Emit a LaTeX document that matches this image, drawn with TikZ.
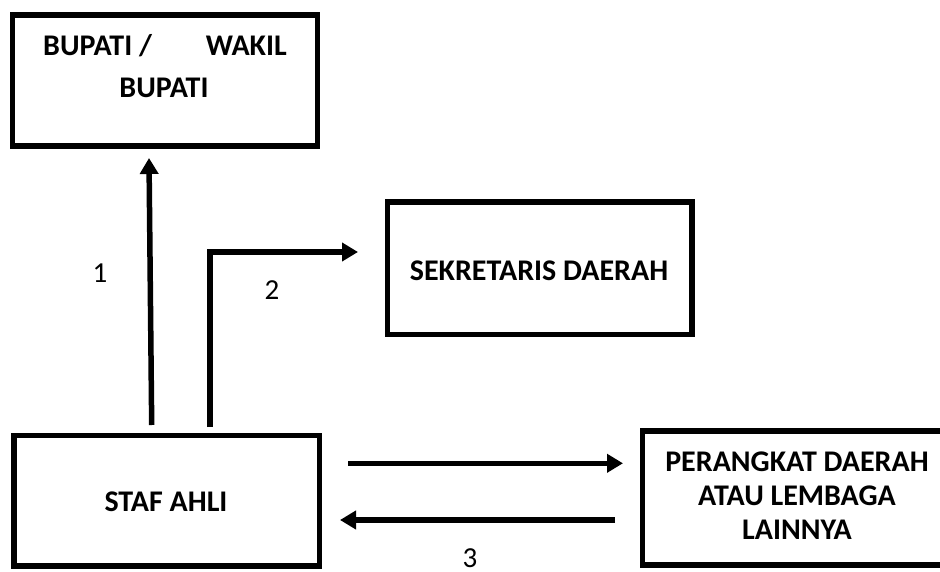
\documentclass[tikz,border=0pt]{standalone}
\usepackage{fontspec}
\setmainfont{Carlito}
\usetikzlibrary{arrows.meta}
\begin{document}
\begin{tikzpicture}[x=1pt,y=1pt,
  box/.style={draw=black, line width=5.5pt, outer sep=0pt, inner sep=0pt, anchor=north west, fill=none},
  lbl/.style={font=\bfseries\fontsize{30}{34}\selectfont, inner sep=0pt, text=black},
  num/.style={font=\fontsize{29}{34}\selectfont, inner sep=0pt, text=black},
  arr/.style={line width=5.5pt, -{Triangle[length=16pt,width=18pt]}}
]
\useasboundingbox (0,0) rectangle (940,-572);
\fill[white] (0,0) rectangle (940,-572);
% boxes
\node[box, minimum width=305pt, minimum height=131pt] (bupati) at (12.5,-15) {};
\node[box, minimum width=304.5pt, minimum height=132.5pt] (sekda) at (387.5,-202) {};
\node[box, minimum width=305.5pt, minimum height=130.5pt] (staf) at (14,-435.5) {};
\node[box, minimum width=302.5pt, minimum height=134pt] (pd) at (642.5,-431) {};
% texts
\node[lbl, anchor=base west] (bt1) at (43,-55.5) {BUPATI /};
\node[lbl, anchor=base east] (bt2) at (287,-55.5) {WAKIL};
\node[lbl, anchor=base] (bt3) at (164,-97.5) {BUPATI};
\node[lbl] (st) at (539,-271) {SEKRETARIS DAERAH};
\node[lbl] (sa) at (166,-502) {STAF AHLI};
\node[lbl, align=center] (pt) at (797,-496) {PERANGKAT DAERAH\\ATAU LEMBAGA\\LAINNYA};
% numbers
\node[num] (n1) at (100,-273.5) {1};
\node[num] (n2) at (272,-290.5) {2};
\node[num] (n3) at (470,-558) {3};
% connector end points
\coordinate (a1s) at (151.7,-425);
\coordinate (a1e) at (149,-158);
\coordinate (a2s) at (210,-427);
\coordinate (a2c) at (210,-252);
\coordinate (a2e) at (358,-252);
\coordinate (a3s) at (348,-463.3);
\coordinate (a3e) at (623,-463.3);
\coordinate (a4s) at (615,-520);
\coordinate (a4e) at (340,-520);
% connectors
\draw[arr] (a1s) -- (a1e);
\draw[arr, line join=miter] (a2s) -- (a2c) -- (a2e);
\draw[arr] (a3s) -- (a3e);
\draw[arr] (a4s) -- (a4e);
\end{tikzpicture}
\end{document}
